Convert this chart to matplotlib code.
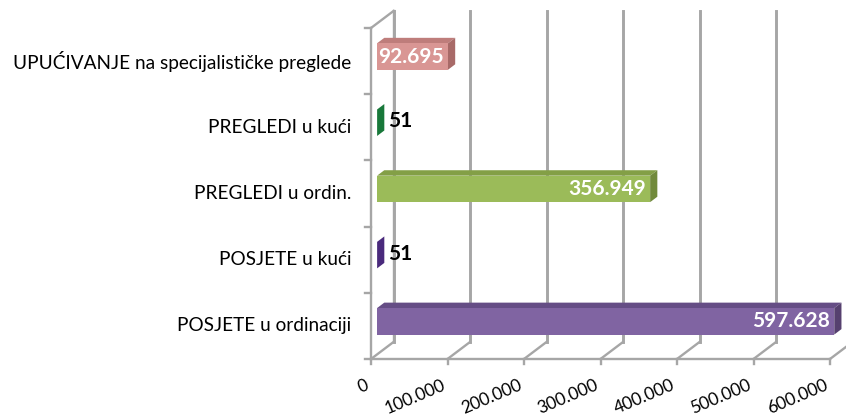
import numpy as np
import matplotlib.pyplot as plt
from matplotlib.patches import Polygon

plt.rcParams['font.family'] = ['Lato', 'DejaVu Sans']

# ── Data ─────────────────────────────────────────────────────
categories = ['POSJETE u ordinaciji', 'POSJETE u kući', 'PREGLEDI u ordin.',
              'PREGLEDI u kući', 'UPUĆIVANJE na specijalističke preglede']
values = [597628, 51, 356949, 51, 92695]
value_labels = ['597.628', '51', '356.949', '51', '92.695']
x_ticks = [0, 100000, 200000, 300000, 400000, 500000, 600000]
x_tick_labels = ['0', '100.000', '200.000', '300.000', '400.000', '500.000', '600.000']

front_colors = ['#8064A2', '#4B2A78', '#9BBB59', '#1E7B3C', '#D99694']
top_colors = ['#654D85', '#3A1F60', '#839F46', '#176330', '#BE7D7B']
side_colors = ['#56406F', '#4A2A7C', '#718A3B', '#18783A', '#A86A68']

# ── Figure / 3D-ish projection settings ──────────────────────
W, H = 846, 419
fig = plt.figure(figsize=(W / 100, H / 100), dpi=100)
ax = fig.add_axes([371 / W, (H - 359) / H, 459 / W, 331 / H])
ax.set_xlim(0, 600000)
ax.set_ylim(-0.5, 4.5)
ax.axis('off')

px_x = 600000 / 459          # value units per pixel
px_y = 5 / 331               # category units per pixel
DX, DY = 22.5 * px_x, 17 * px_y   # full depth offset
d0, d1 = 0.27, 0.59               # bar depth range
bar_h = 0.40
grid_c = '#A6A6A6'
lw = 1.7


def P(v, c, d):
    return (v + d * DX, c + d * DY)


ymin, ymax = -0.5, 4.5
# left wall
ax.plot([0, 0], [ymin, ymax], color=grid_c, lw=lw, clip_on=False)
ax.plot([DX, DX], [ymin + DY, ymax + DY], color=grid_c, lw=lw, clip_on=False)
ax.plot([0, DX], [ymax, ymax + DY], color=grid_c, lw=lw, clip_on=False)
for b in np.arange(ymin, ymax + 0.01, 1.0):
    ax.plot([-6 * px_x, 0], [b, b], color=grid_c, lw=lw, clip_on=False)

# floor + back wall
ax.plot([0, x_ticks[-1]], [ymin, ymin], color=grid_c, lw=lw, clip_on=False)
for t in x_ticks:
    ax.plot([t, t + DX], [ymin, ymin + DY], color=grid_c, lw=lw, clip_on=False)
    ax.plot([t, t], [ymin, ymin - 5 * px_y], color=grid_c, lw=lw, clip_on=False)
    ax.plot([t + DX, t + DX], [ymin + DY, ymax + DY], color=grid_c, lw=lw + 0.4,
            clip_on=False)

# bars
for i, v in enumerate(values):
    lo, hi = i - bar_h / 2, i + bar_h / 2
    front = [P(0, lo, d0), P(v, lo, d0), P(v, hi, d0), P(0, hi, d0)]
    top = [P(0, hi, d0), P(v, hi, d0), P(v, hi, d1), P(0, hi, d1)]
    side = [P(v, lo, d0), P(v, lo, d1), P(v, hi, d1), P(v, hi, d0)]
    for pts, col in [(top, top_colors[i]), (side, side_colors[i]), (front, front_colors[i])]:
        ax.add_patch(Polygon(pts, closed=True, facecolor=col, edgecolor='none',
                             clip_on=False, zorder=3))
    if v > 50000:
        ax.annotate(value_labels[i], xy=P(v, i, d0), xytext=(-4, 0),
                    textcoords='offset pixels', ha='right', va='center',
                    color='white', fontsize=15, fontweight='bold', zorder=4,
                    annotation_clip=False)
    else:
        ax.annotate(value_labels[i], xy=P(v, i, d1), xytext=(4, -4),
                    textcoords='offset pixels', ha='left', va='center',
                    color='black', fontsize=15, fontweight='bold', zorder=4,
                    annotation_clip=False)

# category labels
for i, lab in enumerate(categories):
    ax.annotate(lab, xy=(0, i), xytext=(-20, 0), textcoords='offset pixels',
                ha='right', va='center', fontsize=13.7, color='black',
                annotation_clip=False)

# x tick labels
for t, lab in zip(x_ticks, x_tick_labels):
    ax.annotate(lab, xy=(t, ymin), xytext=(-6, -18), textcoords='offset pixels',
                ha='right', va='top', rotation=23, rotation_mode='anchor',
                fontsize=12.5, color='black', annotation_clip=False)

fig.savefig('out.png', dpi=100)
